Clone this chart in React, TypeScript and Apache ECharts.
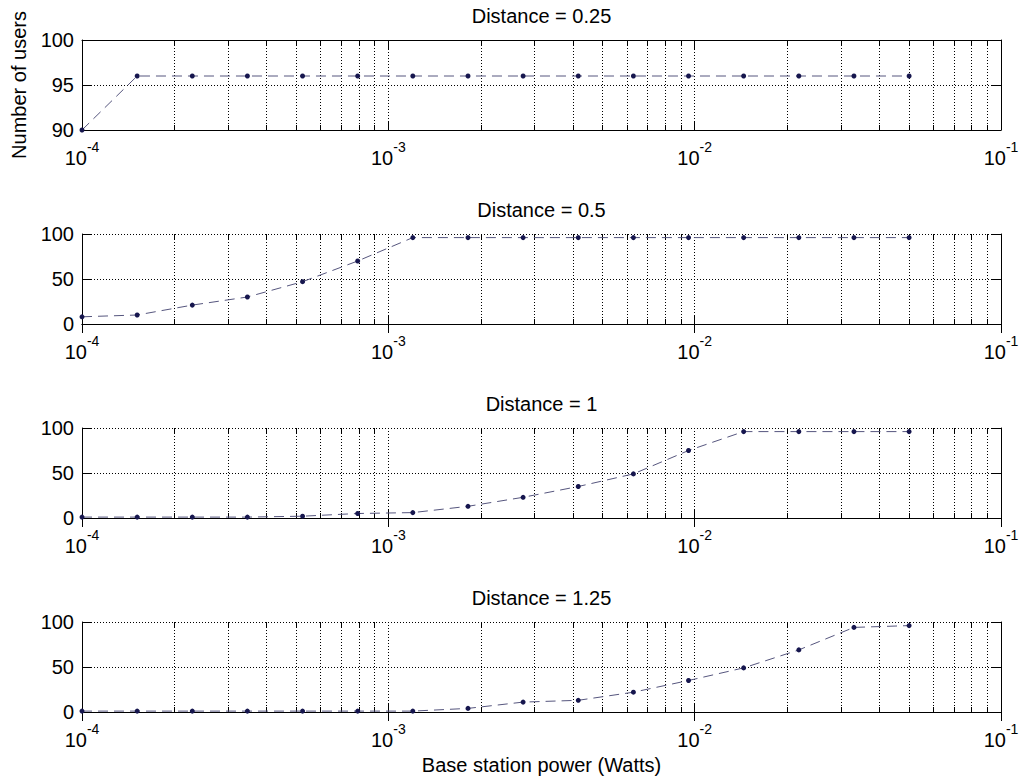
import React, { useEffect, useRef } from "react";
import * as echarts from "echarts";

// ---- data ----
const POWER_W = [
  1e-4, 1.514e-4, 2.291e-4, 3.467e-4, 5.248e-4, 7.943e-4, 1.202e-3, 1.82e-3,
  2.754e-3, 4.169e-3, 6.31e-3, 9.55e-3, 1.445e-2, 2.188e-2, 3.311e-2, 5.012e-2,
];
const USERS_D025 = [90, 96, 96, 96, 96, 96, 96, 96, 96, 96, 96, 96, 96, 96, 96, 96];
const USERS_D05 = [8, 10, 21, 30, 47, 70, 96, 96, 96, 96, 96, 96, 96, 96, 96, 96];
const USERS_D1 = [1, 1, 1, 1, 2, 5, 6, 13, 23, 35, 49, 75, 96, 96, 96, 96];
const USERS_D125 = [1, 1, 1, 1, 1, 1, 1, 4, 11, 13, 22, 35, 49, 69, 94, 96];
const PANEL_TITLES = ["Distance = 0.25", "Distance = 0.5", "Distance = 1", "Distance = 1.25"];
const PANEL_VALUES = [USERS_D025, USERS_D05, USERS_D1, USERS_D125];
const Y_MIN = [90, 0, 0, 0];
const Y_MAX = [100, 100, 100, 100];
const Y_INTERVAL = [5, 50, 50, 50];
const X_MIN = 1e-4;
const X_MAX = 1e-1;
const MINOR_TICKS = [
  2e-4, 3e-4, 4e-4, 5e-4, 6e-4, 7e-4, 8e-4, 9e-4,
  2e-3, 3e-3, 4e-3, 5e-3, 6e-3, 7e-3, 8e-3, 9e-3,
  2e-2, 3e-2, 4e-2, 5e-2, 6e-2, 7e-2, 8e-2, 9e-2,
];
const X_LABEL = "Base station power (Watts)";
const Y_LABEL = "Number of users";

const FONT = '"Liberation Sans", Arial, Helvetica, sans-serif';
const GRID_LEFT = 82;
const GRID_RIGHT = 33;
const GRID_TOPS = [40, 234, 428, 622];
const GRID_H = 90;

function buildOption() {
  const grid: any[] = [];
  const xAxis: any[] = [];
  const yAxis: any[] = [];
  const series: any[] = [];
  const graphic: any[] = [];
  const n = PANEL_TITLES.length;

  for (let i = 0; i < n; i++) {
    grid.push({
      left: GRID_LEFT,
      right: GRID_RIGHT,
      top: GRID_TOPS[i],
      height: GRID_H,
      containLabel: false,
    });
    // bottom axis
    xAxis.push({
      type: "log",
      logBase: 10,
      gridIndex: i,
      min: X_MIN,
      max: X_MAX,
      position: "bottom",
      axisLine: { show: true, lineStyle: { color: "#000", width: 1 } },
      axisTick: { show: true, inside: true, length: 9, lineStyle: { color: "#000" } },
      axisLabel: {
        show: true,
        margin: 10,
        formatter: (v: number) => `{b|10}{s|${Math.round(Math.log10(v))}}`,
        rich: {
          b: { fontSize: 20, fontFamily: FONT, color: "#000", lineHeight: 28, verticalAlign: "bottom" },
          s: { fontSize: 14, fontFamily: FONT, color: "#000", lineHeight: 10, verticalAlign: "top" },
        },
      },
      splitLine: { show: true, lineStyle: { color: "#000", width: 1, type: [1, 2] } },
      ...(i === n - 1
        ? {
            name: X_LABEL,
            nameLocation: "middle",
            nameGap: 43,
            nameTextStyle: { fontSize: 20, fontFamily: FONT, color: "#000" },
          }
        : {}),
    });
    // left axis
    yAxis.push({
      type: "value",
      gridIndex: i,
      min: Y_MIN[i],
      max: Y_MAX[i],
      interval: Y_INTERVAL[i],
      position: "left",
      axisLine: { show: true, lineStyle: { color: "#000", width: 1 } },
      axisTick: { show: true, inside: true, length: 9, lineStyle: { color: "#000" } },
      axisLabel: { show: true, margin: 8, fontSize: 20, fontFamily: FONT, color: "#000" },
      splitLine: { show: true, lineStyle: { color: "#000", width: 1, type: [1, 2] } },
      ...(i === 0
        ? {
            name: Y_LABEL,
            nameLocation: "middle",
            nameRotate: 90,
            nameGap: 53,
            nameTextStyle: { fontSize: 20, fontFamily: FONT, color: "#000" },
          }
        : {}),
    });
  }
  // mirrored top / right axes
  for (let i = 0; i < n; i++) {
    xAxis.push({
      type: "log",
      logBase: 10,
      gridIndex: i,
      min: X_MIN,
      max: X_MAX,
      position: "top",
      axisLine: { show: true, lineStyle: { color: "#000", width: 1 } },
      axisTick: { show: true, inside: true, length: 9, lineStyle: { color: "#000" } },
      axisLabel: { show: false },
      splitLine: { show: false },
    });
    yAxis.push({
      type: "value",
      gridIndex: i,
      min: Y_MIN[i],
      max: Y_MAX[i],
      interval: Y_INTERVAL[i],
      position: "right",
      axisLine: { show: true, lineStyle: { color: "#000", width: 1 } },
      axisTick: { show: true, inside: true, length: 9, lineStyle: { color: "#000" } },
      axisLabel: { show: false },
      splitLine: { show: false },
    });
  }

  for (let i = 0; i < n; i++) {
    const yMin = Y_MIN[i];
    const yMax = Y_MAX[i];
    // minor log grid lines + minor ticks
    series.push({
      type: "custom",
      xAxisIndex: i,
      yAxisIndex: i,
      silent: true,
      clip: false,
      z: 1,
      data: MINOR_TICKS.map((v) => [v, yMin]),
      encode: { x: 0, y: 1 },
      renderItem: (_params: any, api: any) => {
        const x = api.value(0);
        const b = api.coord([x, yMin]);
        const t = api.coord([x, yMax]);
        const px = Math.round(b[0]) + 0.5;
        return {
          type: "group",
          children: [
            {
              type: "line",
              shape: { x1: px, y1: b[1], x2: px, y2: t[1] },
              style: { stroke: "#000", lineWidth: 1, lineDash: [1, 2] },
            },
            {
              type: "line",
              shape: { x1: px, y1: b[1], x2: px, y2: b[1] - 5 },
              style: { stroke: "#000", lineWidth: 1 },
            },
            {
              type: "line",
              shape: { x1: px, y1: t[1], x2: px, y2: t[1] + 5 },
              style: { stroke: "#000", lineWidth: 1 },
            },
          ],
        };
      },
    });
    series.push({
      type: "line",
      name: PANEL_TITLES[i],
      xAxisIndex: i,
      yAxisIndex: i,
      data: POWER_W.map((x, j) => [x, PANEL_VALUES[i][j]]),
      clip: false,
      z: 5,
      symbol: "circle",
      symbolSize: 5,
      showSymbol: true,
      lineStyle: { color: "#56567e", width: 1, type: [10, 6] },
      itemStyle: { color: "#16164e" },
    });
    graphic.push({
      type: "text",
      x: GRID_LEFT + (1034 - GRID_LEFT - GRID_RIGHT) / 2,
      y: GRID_TOPS[i] - 24,
      style: {
        text: PANEL_TITLES[i],
        fontSize: 20,
        fontFamily: FONT,
        fill: "#000",
        textAlign: "center",
        textVerticalAlign: "middle",
      },
    });
  }

  return {
    animation: false,
    backgroundColor: "#fff",
    grid,
    xAxis,
    yAxis,
    series,
    graphic,
  };
}

export default function App() {
  const ref = useRef<HTMLDivElement>(null);
  useEffect(() => {
    if (!ref.current) return;
    const chart = echarts.init(ref.current, undefined, { renderer: "svg" });
    chart.setOption(buildOption());
    return () => chart.dispose();
  }, []);
  return (
    <div
      ref={ref}
      style={{ position: "fixed", left: 0, top: 0, width: 1034, height: 781, background: "#fff" }}
    />
  );
}
